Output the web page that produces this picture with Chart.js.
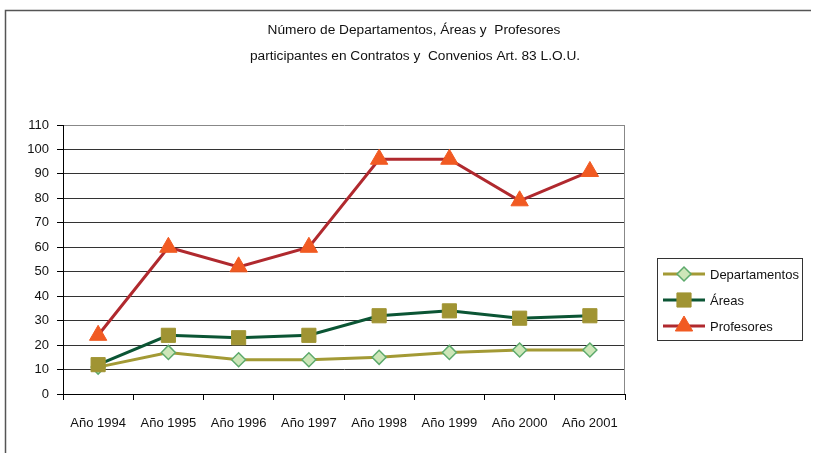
<!DOCTYPE html>
<html><head><meta charset="utf-8">
<script src="https://cdn.jsdelivr.net/npm/chart.js@4"></script>
<style>html,body{margin:0;padding:0;background:#fff}canvas{display:block}</style>
</head><body>
<canvas id="c" width="813" height="453"></canvas>
<script>
const categories = ['Año 1994','Año 1995','Año 1996','Año 1997','Año 1998','Año 1999','Año 2000','Año 2001'];
const departamentos = [11, 17, 14, 14, 15, 17, 18, 18];
const areas = [12, 24, 23, 24, 32, 34, 31, 32];
const profesores = [24, 60, 52, 60, 96, 96, 79, 91];
const titleLines = ['Número de Departamentos, Áreas y  Profesores', 'participantes en Contratos y  Convenios Art. 83 L.O.U.'];
const FONT = '"Liberation Sans", Arial, sans-serif';

const frame = {
  id: 'frame',
  beforeDraw(chart) {
    const ctx = chart.ctx;
    ctx.save();
    ctx.strokeStyle = '#555';
    ctx.lineWidth = 1.5;
    ctx.beginPath();
    ctx.moveTo(5.5, 453); ctx.lineTo(5.5, 10.5); ctx.lineTo(811, 10.5);
    ctx.stroke();
    ctx.fillStyle = '#111';
    ctx.font = '13.7px ' + FONT;
    ctx.textAlign = 'center';
    ctx.textBaseline = 'middle';
    ctx.fillText(titleLines[0], 414, 30);
    ctx.fillText(titleLines[1], 415, 56);
    ctx.restore();
  },
  afterDraw(chart) {
    const ctx = chart.ctx;
    const a = chart.chartArea;
    ctx.save();
    ctx.strokeStyle = '#888';
    ctx.lineWidth = 1;
    ctx.beginPath();
    ctx.moveTo(a.right - 0.5, a.top); ctx.lineTo(a.right - 0.5, a.bottom);
    ctx.stroke();
    // legend
    const lx = 657.5, ly = 258.5, lw = 145, lh = 82;
    ctx.strokeStyle = '#333';
    ctx.strokeRect(lx, ly, lw, lh);
    ctx.font = '13px ' + FONT;
    ctx.textBaseline = 'middle';
    ctx.textAlign = 'left';
    const ys = [274, 300, 326];
    chart.data.datasets.forEach((ds, i) => {
      const y = ys[i];
      ctx.strokeStyle = ds.borderColor;
      ctx.lineWidth = 3;
      ctx.beginPath(); ctx.moveTo(663, y); ctx.lineTo(705, y); ctx.stroke();
      ctx.fillStyle = ds.pointBackgroundColor;
      ctx.strokeStyle = ds.pointBorderColor;
      ctx.lineWidth = ds.pointBorderWidth;
      Chart.helpers.drawPoint(ctx, {
        pointStyle: ds.pointStyle, radius: ds.pointRadius, borderWidth: ds.pointBorderWidth, rotation: 0
      }, 684, y);
      ctx.fillStyle = '#111';
      ctx.fillText(ds.label, 710, y + 1);
    });
    ctx.restore();
  }
};

new Chart(document.getElementById('c'), {
  type: 'line',
  data: {
    labels: categories,
    datasets: [
      { label: 'Departamentos', data: departamentos, borderColor: '#A39A35', borderWidth: 3,
        pointStyle: 'rectRot', pointRadius: 7, pointBackgroundColor: '#CDE6B8', pointBorderColor: '#5DAA6C', pointBorderWidth: 1.5, order: 3 },
      { label: 'Áreas', data: areas, borderColor: '#0B5534', borderWidth: 3,
        pointStyle: 'rect', pointRadius: 10, pointBackgroundColor: '#A09433', pointBorderColor: '#A09433', pointBorderWidth: 1, order: 2 },
      { label: 'Profesores', data: profesores, borderColor: '#B0292E', borderWidth: 3,
        pointStyle: 'triangle', pointRadius: 10, pointBackgroundColor: '#F15A22', pointBorderColor: '#F15A22', pointBorderWidth: 1, order: 1 }
    ]
  },
  options: {
    responsive: false,
    animation: false,
    layout: { padding: { left: 0, right: 188, top: 125, bottom: 0 } },
    plugins: { legend: { display: false }, title: { display: false }, tooltip: { enabled: false } },
    elements: { line: { tension: 0 } },
    scales: {
      x: {
        offset: true,
        afterFit: s => { s.height = 59; },
        grid: { offset: true, drawOnChartArea: false, drawTicks: true, tickLength: 6, color: '#000' },
        border: { color: '#000', width: 1 },
        ticks: { color: '#111', font: { family: FONT, size: 13 }, padding: 16, maxRotation: 0 }
      },
      y: {
        min: 0, max: 110,
        afterFit: s => { s.width = 63; },
        grid: { color: ctx => ctx.tick && ctx.tick.value === 110 ? '#888' : '#333', tickLength: 6, tickColor: '#000' },
        border: { color: '#000', width: 1 },
        ticks: { stepSize: 10, color: '#111', font: { family: FONT, size: 13 }, padding: 8 }
      }
    }
  },
  plugins: [frame]
});
</script>
</body></html>
